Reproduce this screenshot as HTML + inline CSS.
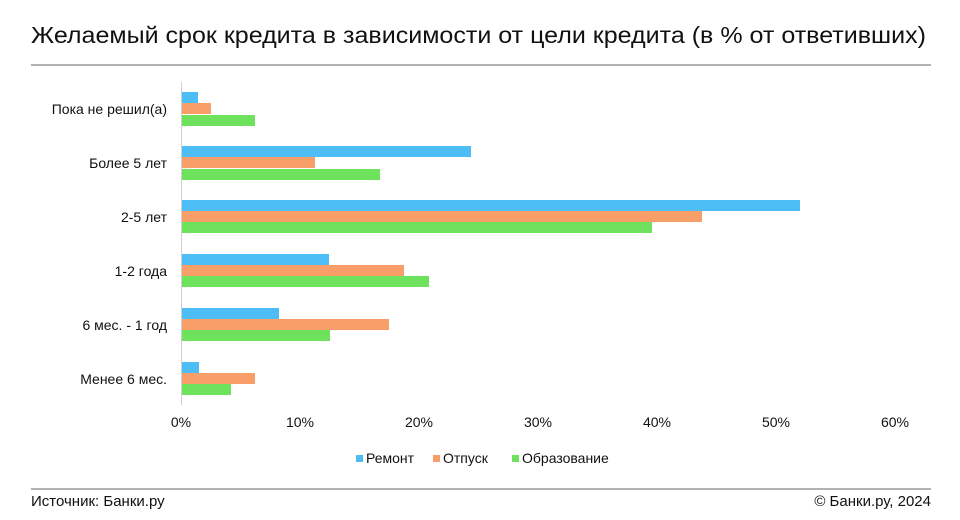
<!DOCTYPE html>
<html><head><meta charset="utf-8"><style>
body{margin:0;background:#fff}
svg{display:block;font-family:"Liberation Sans","DejaVu Sans",sans-serif}
</style></head><body>
<svg width="960" height="520" viewBox="0 0 960 520">
<text x="31" y="43" font-size="23" fill="#111" textLength="895" lengthAdjust="spacingAndGlyphs">Желаемый срок кредита в зависимости от цели кредита (в % от ответивших)</text>
<line x1="31" y1="65" x2="931" y2="65" stroke="#666" stroke-width="1"/>
<line x1="181.5" y1="82" x2="181.5" y2="405" stroke="#d0d0d0" stroke-width="1"/>
<g fill="#4cbdf5">
<rect x="182" y="92" width="16" height="11"/>
<rect x="182" y="146" width="289" height="11"/>
<rect x="182" y="200" width="618" height="11"/>
<rect x="182" y="254" width="147" height="11"/>
<rect x="182" y="308" width="97" height="11"/>
<rect x="182" y="362" width="17" height="11"/>
</g>
<g fill="#f89e68">
<rect x="182" y="103" width="29" height="11"/>
<rect x="182" y="157" width="133" height="11"/>
<rect x="182" y="211" width="520" height="11"/>
<rect x="182" y="265" width="222" height="11"/>
<rect x="182" y="319" width="207" height="11"/>
<rect x="182" y="373" width="73" height="11"/>
</g>
<g fill="#6fe25d">
<rect x="182" y="115" width="73" height="11"/>
<rect x="182" y="169" width="198" height="11"/>
<rect x="182" y="222" width="470" height="11"/>
<rect x="182" y="276" width="247" height="11"/>
<rect x="182" y="330" width="148" height="11"/>
<rect x="182" y="384" width="49" height="11"/>
</g>
<g font-size="14" fill="#111" text-anchor="end">
<text x="167" y="114">Пока не решил(а)</text>
<text x="167" y="168">Более 5 лет</text>
<text x="167" y="222">2-5 лет</text>
<text x="167" y="276">1-2 года</text>
<text x="167" y="330">6 мес. - 1 год</text>
<text x="167" y="384">Менее 6 мес.</text>
</g>
<g font-size="14" fill="#111" text-anchor="middle">
<text x="181" y="427">0%</text>
<text x="300" y="427">10%</text>
<text x="419" y="427">20%</text>
<text x="538" y="427">30%</text>
<text x="657" y="427">40%</text>
<text x="776" y="427">50%</text>
<text x="895" y="427">60%</text>
</g>
<g font-size="14" fill="#111">
<rect x="356" y="455" width="7" height="7" fill="#4cbdf5"/><text x="366" y="463">Ремонт</text>
<rect x="433" y="455" width="7" height="7" fill="#f89e68"/><text x="443" y="463">Отпуск</text>
<rect x="512" y="455" width="7" height="7" fill="#6fe25d"/><text x="522" y="463">Образование</text>
</g>
<line x1="31" y1="489" x2="931" y2="489" stroke="#666" stroke-width="1"/>
<text x="31" y="506" font-size="15" fill="#111">Источник: Банки.ру</text>
<text x="931" y="506" font-size="15" fill="#111" text-anchor="end">© Банки.ру, 2024</text>
</svg>
</body></html>
